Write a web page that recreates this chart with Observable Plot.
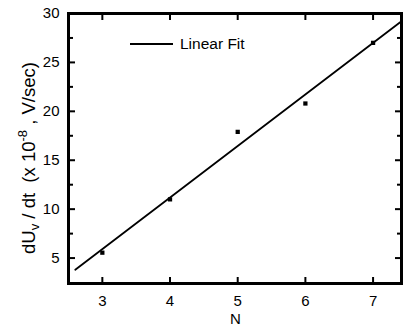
<!DOCTYPE html>
<html>
<head>
<meta charset="utf-8">
<script src="https://cdn.jsdelivr.net/npm/d3@7"></script>
<script src="https://cdn.jsdelivr.net/npm/@observablehq/plot@0.6"></script>
<style>
  html, body { margin: 0; padding: 0; background: #fff; }
  #chart { position: relative; width: 403px; height: 327px; }
  #legend { position: absolute; left: 130px; top: 35px; display: flex; align-items: center;
            font: 15.5px "Liberation Sans", Arial, sans-serif; color: #000; }
  #legend .sw { width: 43px; height: 0; border-top: 2px solid #000; margin-right: 7px; }
</style>
</head>
<body>
<div id="chart">
  <div id="legend"><span class="sw"></span><span>Linear Fit</span></div>
</div>
<script>
// Data
const N = [3, 4, 5, 6, 7];
const rate = [5.55, 11.0, 17.9, 20.8, 27.0];
// Linear fit line endpoints (as drawn)
const fitN = [2.6, 7.4];
const fitRate = [3.8, 29.1];
// Axis ticks
const xTicks = [3, 4, 5, 6, 7];
const yTicks = [5, 10, 15, 20, 25, 30];
const yMinor = [7.5, 12.5, 17.5, 22.5, 27.5];

const pts = N.map((n, i) => ({n, v: rate[i]}));
const fit = fitN.map((n, i) => ({n, v: fitRate[i]}));

const font = '"Liberation Sans", Arial, sans-serif';
const W = 403, H = 327, mL = 68, mR = 2, mT = 13, mB = 44;
const pw = W - mL - mR, ph = H - mT - mB;

const tk = {text: null, label: null, stroke: "#000", strokeWidth: 2};

const plot = Plot.plot({
  width: W,
  height: H,
  marginLeft: mL,
  marginRight: mR,
  marginTop: mT,
  marginBottom: mB,
  style: {fontFamily: font, fontSize: "15px", color: "#000", background: "#fff"},
  x: {domain: [2.5, 7.42]},
  y: {domain: [2.4, 30]},
  marks: [
    // tick labels
    Plot.axisX({ticks: xTicks, tickFormat: d3.format("d"), tickSize: 0, tickPadding: 12, label: null, fontSize: 15}),
    Plot.axisY({ticks: yTicks, tickFormat: d3.format("d"), tickSize: 0, tickPadding: 9, label: null, fontSize: 15}),
    // inward ticks, all four sides (outward ticks shifted inside the frame)
    Plot.axisX({...tk, ticks: xTicks, anchor: "bottom", tickSize: 6, dy: -6}),
    Plot.axisX({...tk, ticks: xTicks, anchor: "top", tickSize: 6, dy: 6}),
    Plot.axisY({...tk, ticks: yTicks, anchor: "left", tickSize: 7, dx: 7}),
    Plot.axisY({...tk, ticks: yMinor, anchor: "left", tickSize: 5, dx: 5}),
    Plot.axisY({...tk, ticks: yTicks, anchor: "right", tickSize: 7, dx: -7}),
    Plot.axisY({...tk, ticks: yMinor, anchor: "right", tickSize: 5, dx: -5}),
    Plot.frame({stroke: "#000", strokeWidth: 3}),
    Plot.line(fit, {x: "n", y: "v", stroke: "#000", strokeWidth: 1.8}),
    Plot.dot(pts, {x: "n", y: "v", symbol: "square", r: 2.4, fill: "#000", stroke: "none"})
  ]
});

document.getElementById("chart").prepend(plot);

const svg = d3.select(plot);
// X axis title
svg.append("text")
  .attr("x", mL + pw / 2 + 1).attr("y", 324)
  .attr("text-anchor", "middle")
  .attr("font-family", font).attr("font-size", 15).attr("fill", "#000")
  .text("N");
// Y axis title with subscript / superscript
const t = svg.append("text")
  .attr("transform", "translate(35,158) rotate(-90)")
  .attr("text-anchor", "middle")
  .attr("font-family", font)
  .attr("font-size", 18.5)
  .attr("fill", "#000");
t.append("tspan").text("dU");
t.append("tspan").attr("font-size", 13).attr("dy", 4).text("v");
t.append("tspan").attr("dy", -4).text(" / dt  (x 10");
t.append("tspan").attr("font-size", 13).attr("dy", -8).text("-8");
t.append("tspan").attr("dy", 8).text(" , V/sec)");
</script>
</body>
</html>
